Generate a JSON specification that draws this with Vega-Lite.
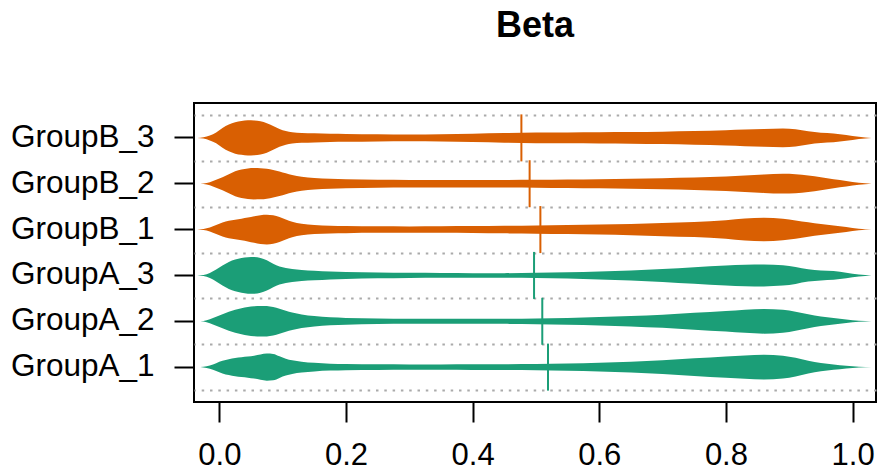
{
  "$schema": "https://vega.github.io/schema/vega-lite/v6.json",
  "width": 877,
  "height": 473,
  "autosize": {"type": "fit", "contains": "padding"},
  "padding": {"left": 10, "right": 1, "top": 8, "bottom": 3},
  "title": {"text": "Beta", "fontSize": 36, "font": "Liberation Sans", "fontWeight": "bold", "color": "black", "anchor": "middle", "offset": 58},
  "config": {
    "view": {"stroke": "black", "strokeWidth": 2},
    "font": "Liberation Sans",
    "axisX": {"domain": false, "tickSize": 20, "tickWidth": 2, "tickColor": "black", "labelFontSize": 31, "labelPadding": 18, "labelColor": "black", "labelFont": "Liberation Sans", "grid": false, "tickCount": 6}
  },
  "datasets": {
    "medians": [
      {"group": "GroupB_3", "family": "B", "median": 0.477},
      {"group": "GroupB_2", "family": "B", "median": 0.490},
      {"group": "GroupB_1", "family": "B", "median": 0.507},
      {"group": "GroupA_3", "family": "A", "median": 0.497},
      {"group": "GroupA_2", "family": "A", "median": 0.510},
      {"group": "GroupA_1", "family": "A", "median": 0.519}
    ],
    "beans": [
      {"group":"GroupB_3","x":-0.035,"density":0},{"group":"GroupB_3","x":-0.025,"density":0.6},{"group":"GroupB_3","x":-0.015,"density":2.5},{"group":"GroupB_3","x":-0.005,"density":5.5},{"group":"GroupB_3","x":0.005,"density":10},{"group":"GroupB_3","x":0.015,"density":13.5},{"group":"GroupB_3","x":0.025,"density":15.8},{"group":"GroupB_3","x":0.035,"density":17},{"group":"GroupB_3","x":0.045,"density":17.7},{"group":"GroupB_3","x":0.055,"density":17.5},{"group":"GroupB_3","x":0.065,"density":16.6},{"group":"GroupB_3","x":0.075,"density":14.8},{"group":"GroupB_3","x":0.085,"density":12},{"group":"GroupB_3","x":0.095,"density":9},{"group":"GroupB_3","x":0.105,"density":6.8},{"group":"GroupB_3","x":0.115,"density":5.6},{"group":"GroupB_3","x":0.13,"density":5},{"group":"GroupB_3","x":0.15,"density":4.6},{"group":"GroupB_3","x":0.175,"density":4.2},{"group":"GroupB_3","x":0.2,"density":4},{"group":"GroupB_3","x":0.25,"density":3.7},{"group":"GroupB_3","x":0.3,"density":3.5},{"group":"GroupB_3","x":0.35,"density":3.7},{"group":"GroupB_3","x":0.4,"density":4.2},{"group":"GroupB_3","x":0.45,"density":4.8},{"group":"GroupB_3","x":0.5,"density":5.3},{"group":"GroupB_3","x":0.55,"density":5.5},{"group":"GroupB_3","x":0.6,"density":5.6},{"group":"GroupB_3","x":0.65,"density":5.8},{"group":"GroupB_3","x":0.7,"density":6.2},{"group":"GroupB_3","x":0.75,"density":6.8},{"group":"GroupB_3","x":0.8,"density":7.6},{"group":"GroupB_3","x":0.83,"density":8.3},{"group":"GroupB_3","x":0.86,"density":9.0},{"group":"GroupB_3","x":0.89,"density":9.4},{"group":"GroupB_3","x":0.91,"density":8.6},{"group":"GroupB_3","x":0.93,"density":6.6},{"group":"GroupB_3","x":0.95,"density":5.2},{"group":"GroupB_3","x":0.97,"density":4.5},{"group":"GroupB_3","x":0.99,"density":3.0},{"group":"GroupB_3","x":1.01,"density":1.2},{"group":"GroupB_3","x":1.03,"density":0},
      {"group":"GroupB_2","x":-0.035,"density":0},{"group":"GroupB_2","x":-0.025,"density":0.3},{"group":"GroupB_2","x":-0.015,"density":1.5},{"group":"GroupB_2","x":-0.005,"density":4},{"group":"GroupB_2","x":0.005,"density":6.5},{"group":"GroupB_2","x":0.015,"density":9.5},{"group":"GroupB_2","x":0.025,"density":12.5},{"group":"GroupB_2","x":0.035,"density":14.3},{"group":"GroupB_2","x":0.045,"density":15.3},{"group":"GroupB_2","x":0.055,"density":15.7},{"group":"GroupB_2","x":0.065,"density":15.6},{"group":"GroupB_2","x":0.075,"density":15},{"group":"GroupB_2","x":0.085,"density":13.8},{"group":"GroupB_2","x":0.095,"density":12.3},{"group":"GroupB_2","x":0.105,"density":10.5},{"group":"GroupB_2","x":0.115,"density":8.8},{"group":"GroupB_2","x":0.13,"density":7},{"group":"GroupB_2","x":0.15,"density":5.8},{"group":"GroupB_2","x":0.175,"density":5},{"group":"GroupB_2","x":0.2,"density":4.5},{"group":"GroupB_2","x":0.25,"density":4},{"group":"GroupB_2","x":0.3,"density":3.8},{"group":"GroupB_2","x":0.35,"density":3.7},{"group":"GroupB_2","x":0.4,"density":3.7},{"group":"GroupB_2","x":0.45,"density":3.8},{"group":"GroupB_2","x":0.5,"density":4},{"group":"GroupB_2","x":0.55,"density":4.3},{"group":"GroupB_2","x":0.6,"density":4.6},{"group":"GroupB_2","x":0.65,"density":5},{"group":"GroupB_2","x":0.7,"density":5.6},{"group":"GroupB_2","x":0.75,"density":6.3},{"group":"GroupB_2","x":0.8,"density":7.3},{"group":"GroupB_2","x":0.83,"density":8.2},{"group":"GroupB_2","x":0.86,"density":9.2},{"group":"GroupB_2","x":0.89,"density":9.9},{"group":"GroupB_2","x":0.91,"density":9.6},{"group":"GroupB_2","x":0.93,"density":8.3},{"group":"GroupB_2","x":0.95,"density":6.5},{"group":"GroupB_2","x":0.97,"density":4.5},{"group":"GroupB_2","x":0.99,"density":2.8},{"group":"GroupB_2","x":1.01,"density":1.0},{"group":"GroupB_2","x":1.03,"density":0},
      {"group":"GroupB_1","x":-0.035,"density":0},{"group":"GroupB_1","x":-0.025,"density":0.5},{"group":"GroupB_1","x":-0.015,"density":2},{"group":"GroupB_1","x":-0.005,"density":4.5},{"group":"GroupB_1","x":0.005,"density":7},{"group":"GroupB_1","x":0.015,"density":8.8},{"group":"GroupB_1","x":0.025,"density":9.8},{"group":"GroupB_1","x":0.035,"density":10.8},{"group":"GroupB_1","x":0.045,"density":12},{"group":"GroupB_1","x":0.055,"density":13.3},{"group":"GroupB_1","x":0.065,"density":14.5},{"group":"GroupB_1","x":0.075,"density":14.9},{"group":"GroupB_1","x":0.085,"density":14.3},{"group":"GroupB_1","x":0.095,"density":12.5},{"group":"GroupB_1","x":0.105,"density":10},{"group":"GroupB_1","x":0.115,"density":7.8},{"group":"GroupB_1","x":0.13,"density":5.8},{"group":"GroupB_1","x":0.15,"density":4.5},{"group":"GroupB_1","x":0.175,"density":3.9},{"group":"GroupB_1","x":0.2,"density":3.6},{"group":"GroupB_1","x":0.25,"density":3.3},{"group":"GroupB_1","x":0.3,"density":3.2},{"group":"GroupB_1","x":0.35,"density":3.3},{"group":"GroupB_1","x":0.4,"density":3.5},{"group":"GroupB_1","x":0.45,"density":3.8},{"group":"GroupB_1","x":0.5,"density":4.1},{"group":"GroupB_1","x":0.55,"density":4.5},{"group":"GroupB_1","x":0.6,"density":5},{"group":"GroupB_1","x":0.65,"density":5.6},{"group":"GroupB_1","x":0.7,"density":6.6},{"group":"GroupB_1","x":0.75,"density":7.5},{"group":"GroupB_1","x":0.8,"density":9.3},{"group":"GroupB_1","x":0.83,"density":11},{"group":"GroupB_1","x":0.86,"density":11.8},{"group":"GroupB_1","x":0.89,"density":10.8},{"group":"GroupB_1","x":0.91,"density":9.2},{"group":"GroupB_1","x":0.93,"density":7.3},{"group":"GroupB_1","x":0.95,"density":5.5},{"group":"GroupB_1","x":0.97,"density":4},{"group":"GroupB_1","x":0.99,"density":2.5},{"group":"GroupB_1","x":1.01,"density":0.8},{"group":"GroupB_1","x":1.03,"density":0},
      {"group":"GroupA_3","x":-0.035,"density":0},{"group":"GroupA_3","x":-0.025,"density":0.5},{"group":"GroupA_3","x":-0.015,"density":2.5},{"group":"GroupA_3","x":-0.005,"density":6},{"group":"GroupA_3","x":0.005,"density":10},{"group":"GroupA_3","x":0.015,"density":13.5},{"group":"GroupA_3","x":0.025,"density":16},{"group":"GroupA_3","x":0.035,"density":17.5},{"group":"GroupA_3","x":0.045,"density":18.3},{"group":"GroupA_3","x":0.055,"density":18.4},{"group":"GroupA_3","x":0.065,"density":17.5},{"group":"GroupA_3","x":0.075,"density":15.2},{"group":"GroupA_3","x":0.085,"density":11.8},{"group":"GroupA_3","x":0.095,"density":9},{"group":"GroupA_3","x":0.105,"density":7.5},{"group":"GroupA_3","x":0.115,"density":6.5},{"group":"GroupA_3","x":0.13,"density":5.5},{"group":"GroupA_3","x":0.15,"density":4.8},{"group":"GroupA_3","x":0.175,"density":4},{"group":"GroupA_3","x":0.2,"density":3.5},{"group":"GroupA_3","x":0.25,"density":2.9},{"group":"GroupA_3","x":0.3,"density":2.6},{"group":"GroupA_3","x":0.35,"density":2.4},{"group":"GroupA_3","x":0.4,"density":2.3},{"group":"GroupA_3","x":0.45,"density":2.3},{"group":"GroupA_3","x":0.5,"density":2.6},{"group":"GroupA_3","x":0.55,"density":3.2},{"group":"GroupA_3","x":0.6,"density":4},{"group":"GroupA_3","x":0.65,"density":5},{"group":"GroupA_3","x":0.7,"density":6.5},{"group":"GroupA_3","x":0.75,"density":8.3},{"group":"GroupA_3","x":0.8,"density":10},{"group":"GroupA_3","x":0.83,"density":10.8},{"group":"GroupA_3","x":0.86,"density":11},{"group":"GroupA_3","x":0.89,"density":10.2},{"group":"GroupA_3","x":0.91,"density":8.5},{"group":"GroupA_3","x":0.93,"density":6.2},{"group":"GroupA_3","x":0.95,"density":5},{"group":"GroupA_3","x":0.97,"density":4.4},{"group":"GroupA_3","x":0.99,"density":2.8},{"group":"GroupA_3","x":1.01,"density":1.0},{"group":"GroupA_3","x":1.03,"density":0},
      {"group":"GroupA_2","x":-0.035,"density":0},{"group":"GroupA_2","x":-0.025,"density":0.3},{"group":"GroupA_2","x":-0.015,"density":2},{"group":"GroupA_2","x":-0.005,"density":4.5},{"group":"GroupA_2","x":0.005,"density":7},{"group":"GroupA_2","x":0.015,"density":9.5},{"group":"GroupA_2","x":0.025,"density":11.5},{"group":"GroupA_2","x":0.035,"density":13},{"group":"GroupA_2","x":0.045,"density":14.2},{"group":"GroupA_2","x":0.055,"density":15},{"group":"GroupA_2","x":0.065,"density":15.4},{"group":"GroupA_2","x":0.075,"density":15.2},{"group":"GroupA_2","x":0.085,"density":14.2},{"group":"GroupA_2","x":0.095,"density":12.5},{"group":"GroupA_2","x":0.105,"density":10.5},{"group":"GroupA_2","x":0.115,"density":8.8},{"group":"GroupA_2","x":0.13,"density":6.8},{"group":"GroupA_2","x":0.15,"density":5.2},{"group":"GroupA_2","x":0.175,"density":4},{"group":"GroupA_2","x":0.2,"density":3.4},{"group":"GroupA_2","x":0.25,"density":2.8},{"group":"GroupA_2","x":0.3,"density":2.6},{"group":"GroupA_2","x":0.35,"density":2.5},{"group":"GroupA_2","x":0.4,"density":2.5},{"group":"GroupA_2","x":0.45,"density":2.6},{"group":"GroupA_2","x":0.5,"density":2.9},{"group":"GroupA_2","x":0.55,"density":3.4},{"group":"GroupA_2","x":0.6,"density":4.2},{"group":"GroupA_2","x":0.65,"density":5.2},{"group":"GroupA_2","x":0.7,"density":6.6},{"group":"GroupA_2","x":0.75,"density":8.5},{"group":"GroupA_2","x":0.8,"density":10.3},{"group":"GroupA_2","x":0.83,"density":11.6},{"group":"GroupA_2","x":0.86,"density":12.4},{"group":"GroupA_2","x":0.89,"density":11.5},{"group":"GroupA_2","x":0.91,"density":9.5},{"group":"GroupA_2","x":0.93,"density":7},{"group":"GroupA_2","x":0.95,"density":4.8},{"group":"GroupA_2","x":0.97,"density":3.2},{"group":"GroupA_2","x":0.99,"density":1.8},{"group":"GroupA_2","x":1.01,"density":0.6},{"group":"GroupA_2","x":1.03,"density":0},
      {"group":"GroupA_1","x":-0.035,"density":0},{"group":"GroupA_1","x":-0.025,"density":0.3},{"group":"GroupA_1","x":-0.015,"density":1.7},{"group":"GroupA_1","x":-0.005,"density":4},{"group":"GroupA_1","x":0.005,"density":6.3},{"group":"GroupA_1","x":0.015,"density":8},{"group":"GroupA_1","x":0.025,"density":9.2},{"group":"GroupA_1","x":0.035,"density":10},{"group":"GroupA_1","x":0.045,"density":10.6},{"group":"GroupA_1","x":0.055,"density":11.5},{"group":"GroupA_1","x":0.065,"density":12.7},{"group":"GroupA_1","x":0.075,"density":13.6},{"group":"GroupA_1","x":0.085,"density":13.2},{"group":"GroupA_1","x":0.095,"density":10.8},{"group":"GroupA_1","x":0.105,"density":8.5},{"group":"GroupA_1","x":0.115,"density":6.8},{"group":"GroupA_1","x":0.13,"density":5.4},{"group":"GroupA_1","x":0.15,"density":4.3},{"group":"GroupA_1","x":0.175,"density":3.5},{"group":"GroupA_1","x":0.2,"density":3.1},{"group":"GroupA_1","x":0.25,"density":2.8},{"group":"GroupA_1","x":0.3,"density":2.7},{"group":"GroupA_1","x":0.35,"density":2.7},{"group":"GroupA_1","x":0.4,"density":2.8},{"group":"GroupA_1","x":0.45,"density":2.9},{"group":"GroupA_1","x":0.5,"density":3.1},{"group":"GroupA_1","x":0.55,"density":3.6},{"group":"GroupA_1","x":0.6,"density":4.4},{"group":"GroupA_1","x":0.65,"density":5.4},{"group":"GroupA_1","x":0.7,"density":6.8},{"group":"GroupA_1","x":0.75,"density":8.8},{"group":"GroupA_1","x":0.8,"density":10.6},{"group":"GroupA_1","x":0.83,"density":11.7},{"group":"GroupA_1","x":0.86,"density":12.4},{"group":"GroupA_1","x":0.89,"density":11.4},{"group":"GroupA_1","x":0.91,"density":9.3},{"group":"GroupA_1","x":0.93,"density":6.3},{"group":"GroupA_1","x":0.95,"density":4.2},{"group":"GroupA_1","x":0.97,"density":2.7},{"group":"GroupA_1","x":0.99,"density":1.3},{"group":"GroupA_1","x":1.01,"density":0.4},{"group":"GroupA_1","x":1.03,"density":0}
    ]
  },
  "resolve": {"scale": {"y": "independent"}},
  "layer": [
    {
      "data": {"name": "medians"},
      "mark": {"type": "tick", "opacity": 0},
      "encoding": {
        "x": {"field": "median", "type": "quantitative", "title": null, "scale": {"domain": [-0.04, 1.037], "nice": false, "zero": false}},
        "y": {"field": "group", "type": "nominal", "scale": {"type": "band", "domain": ["GroupB_3", "GroupB_2", "GroupB_1", "GroupA_3", "GroupA_2", "GroupA_1"], "paddingInner": 0, "paddingOuter": 0.2609},
              "axis": {"orient": "right", "grid": true, "tickBand": "extent", "gridDash": [2.5, 5.8], "gridColor": "#aaaaaa", "gridWidth": 2, "domain": false, "ticks": false, "labels": false, "title": null}}
      }
    },
    {
      "data": {"name": "beans"},
      "transform": [{"filter": "datum.group === 'GroupB_3'"}],
      "mark": {"type": "area", "color": "#D95F02", "opacity": 1, "interpolate": "monotone"},
      "encoding": {
        "x": {"field": "x", "type": "quantitative", "title": null, "scale": {"domain": [-0.04, 1.037], "nice": false, "zero": false}},
        "y": {"field": "density", "type": "quantitative", "stack": "center", "impute": null, "scale": {"domain": [-123.65, 26.35], "nice": false, "zero": false}, "axis": null}
      }
    },
    {
      "data": {"name": "beans"},
      "transform": [{"filter": "datum.group === 'GroupB_2'"}],
      "mark": {"type": "area", "color": "#D95F02", "opacity": 1, "interpolate": "monotone"},
      "encoding": {
        "x": {"field": "x", "type": "quantitative", "title": null, "scale": {"domain": [-0.04, 1.037], "nice": false, "zero": false}},
        "y": {"field": "density", "type": "quantitative", "stack": "center", "impute": null, "scale": {"domain": [-101.65, 48.35], "nice": false, "zero": false}, "axis": null}
      }
    },
    {
      "data": {"name": "beans"},
      "transform": [{"filter": "datum.group === 'GroupB_1'"}],
      "mark": {"type": "area", "color": "#D95F02", "opacity": 1, "interpolate": "monotone"},
      "encoding": {
        "x": {"field": "x", "type": "quantitative", "title": null, "scale": {"domain": [-0.04, 1.037], "nice": false, "zero": false}},
        "y": {"field": "density", "type": "quantitative", "stack": "center", "impute": null, "scale": {"domain": [-79.05, 70.95], "nice": false, "zero": false}, "axis": null}
      }
    },
    {
      "data": {"name": "beans"},
      "transform": [{"filter": "datum.group === 'GroupA_3'"}],
      "mark": {"type": "area", "color": "#1B9E77", "opacity": 1, "interpolate": "monotone"},
      "encoding": {
        "x": {"field": "x", "type": "quantitative", "title": null, "scale": {"domain": [-0.04, 1.037], "nice": false, "zero": false}},
        "y": {"field": "density", "type": "quantitative", "stack": "center", "impute": null, "scale": {"domain": [-54.3, 95.7], "nice": false, "zero": false}, "axis": null}
      }
    },
    {
      "data": {"name": "beans"},
      "transform": [{"filter": "datum.group === 'GroupA_2'"}],
      "mark": {"type": "area", "color": "#1B9E77", "opacity": 1, "interpolate": "monotone"},
      "encoding": {
        "x": {"field": "x", "type": "quantitative", "title": null, "scale": {"domain": [-0.04, 1.037], "nice": false, "zero": false}},
        "y": {"field": "density", "type": "quantitative", "stack": "center", "impute": null, "scale": {"domain": [-32.8, 117.2], "nice": false, "zero": false}, "axis": null}
      }
    },
    {
      "data": {"name": "beans"},
      "transform": [{"filter": "datum.group === 'GroupA_1'"}],
      "mark": {"type": "area", "color": "#1B9E77", "opacity": 1, "interpolate": "monotone"},
      "encoding": {
        "x": {"field": "x", "type": "quantitative", "title": null, "scale": {"domain": [-0.04, 1.037], "nice": false, "zero": false}},
        "y": {"field": "density", "type": "quantitative", "stack": "center", "impute": null, "scale": {"domain": [-10.7, 139.3], "nice": false, "zero": false}, "axis": null}
      }
    },
    {
      "data": {"name": "medians"},
      "mark": {"type": "tick", "thickness": 2, "size": 47, "opacity": 1},
      "encoding": {
        "x": {"field": "median", "type": "quantitative", "title": null, "scale": {"domain": [-0.04, 1.037], "nice": false, "zero": false}},
        "y": {"field": "group", "type": "nominal", "scale": {"type": "band", "domain": ["GroupB_3", "GroupB_2", "GroupB_1", "GroupA_3", "GroupA_2", "GroupA_1"], "paddingInner": 0, "paddingOuter": 0.2609},
              "axis": {"orient": "left", "domain": false, "ticks": true, "tickSize": 20, "tickWidth": 2, "tickColor": "black", "labelFontSize": 31.5, "labelFont": "Liberation Sans", "labelPadding": 20, "labelColor": "black", "grid": false, "title": null}},
        "color": {"field": "family", "type": "nominal", "scale": {"domain": ["A", "B"], "range": ["#1B9E77", "#D95F02"]}, "legend": null}
      }
    }
  ]
}
